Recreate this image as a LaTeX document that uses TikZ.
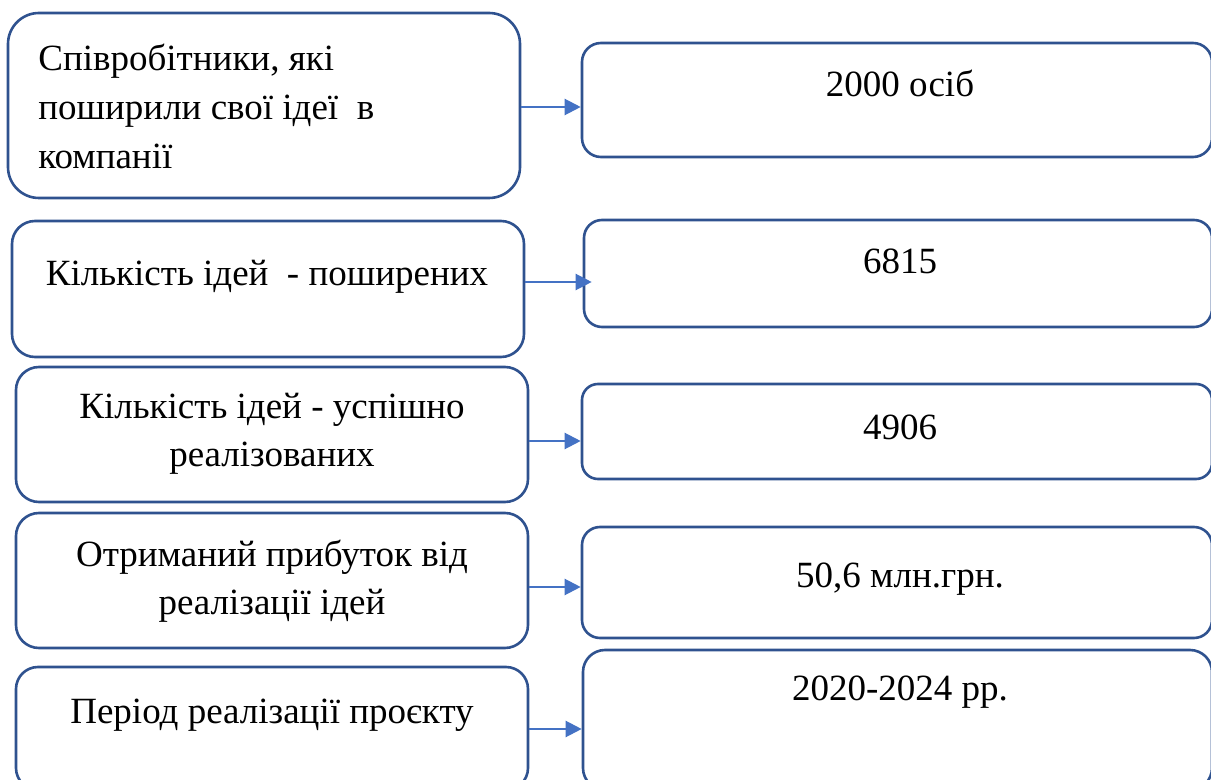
\documentclass[tikz,border=0pt]{standalone}
\usepackage{fontspec}
\setmainfont{Liberation Serif}
\usetikzlibrary{arrows.meta,positioning,calc}
\definecolor{boxBlue}{RGB}{47, 82, 143}
\definecolor{arrowBlue}{RGB}{68, 114, 196}

\tikzset{
  ideabox/.style={draw=boxBlue, line width=1.3pt, rounded corners=#1, fill=white, inner sep=0pt},
  ideatext/.style={text=black, inner sep=0pt, font=\fontsize{18.5pt}{24.5pt}\selectfont},
  ideaarrow/.style={draw=arrowBlue, line width=1.1pt, -{Triangle[length=8pt,width=8pt]}}
}

\begin{document}
\begin{tikzpicture}[x=0.5pt,y=-0.5pt]
  \useasboundingbox (0,0) rectangle (1211,780);

  % left column
  \node[ideabox=15.5pt, minimum width=256pt, minimum height=92.5pt] (lbox1) at (264,105.5) {};
  \node[ideabox=11.5pt, minimum width=256pt, minimum height=68pt] (lbox2) at (268,289) {};
  \node[ideabox=11.5pt, minimum width=256pt, minimum height=67.5pt] (lbox3) at (272,434.5) {};
  \node[ideabox=11.5pt, minimum width=256pt, minimum height=67.5pt] (lbox4) at (272,580.5) {};
  \node[ideabox=11pt, minimum width=256pt, minimum height=61.5pt] (lbox5) at (272,728.5) {};

  % right column
  \node[ideabox=9.5pt, minimum width=315pt, minimum height=57pt] (rbox1) at (897,100) {};
  \node[ideabox=9pt, minimum width=314pt, minimum height=53.5pt] (rbox2) at (898,273.5) {};
  \node[ideabox=8pt, minimum width=315pt, minimum height=47.5pt] (rbox3) at (897,431.5) {};
  \node[ideabox=9pt, minimum width=315pt, minimum height=55.5pt] (rbox4) at (897,582.5) {};
  \node[ideabox=11pt, minimum width=314.5pt, minimum height=70pt] (rbox5) at (897.5,720) {};

  % texts (base = last line)
  \node[ideatext, anchor=base west, align=left] (ltext1) at (38,169)
    {Співробітники, які\\поширили свої ідеї~ в\\компанії};
  \node[ideatext, anchor=base] (ltext2) at (267,286) {Кількість ідей~ - поширених};
  \node[ideatext, anchor=base, align=center] (ltext3) at (272,467)
    {Кількість ідей - успішно\\реалізованих};
  \node[ideatext, anchor=base, align=center] (ltext4) at (272,615)
    {Отриманий прибуток від\\реалізації ідей};
  \node[ideatext, anchor=base] (ltext5) at (272,723) {Період реалізації проєкту};

  \node[ideatext, anchor=base] (rtext1) at (900,97) {2000 осіб};
  \node[ideatext, anchor=base] (rtext2) at (900,274) {6815};
  \node[ideatext, anchor=base] (rtext3) at (900,440) {4906};
  \node[ideatext, anchor=base] (rtext4) at (900,588) {50,6 млн.грн.};
  \node[ideatext, anchor=base] (rtext5) at (900,700) {2020-2024 рр.};

  % arrows
  \draw[ideaarrow] (lbox1.east |- 0,107) -- (rbox1.west |- 0,107);
  \draw[ideaarrow, shorten >=-4.5pt] (lbox2.east |- 0,282) -- (rbox2.west |- 0,282);
  \draw[ideaarrow] (lbox3.east |- 0,441) -- (rbox3.west |- 0,441);
  \draw[ideaarrow] (lbox4.east |- 0,587) -- (rbox4.west |- 0,587);
  \draw[ideaarrow] (lbox5.east |- 0,729) -- (rbox5.west |- 0,729);
\end{tikzpicture}
\end{document}
